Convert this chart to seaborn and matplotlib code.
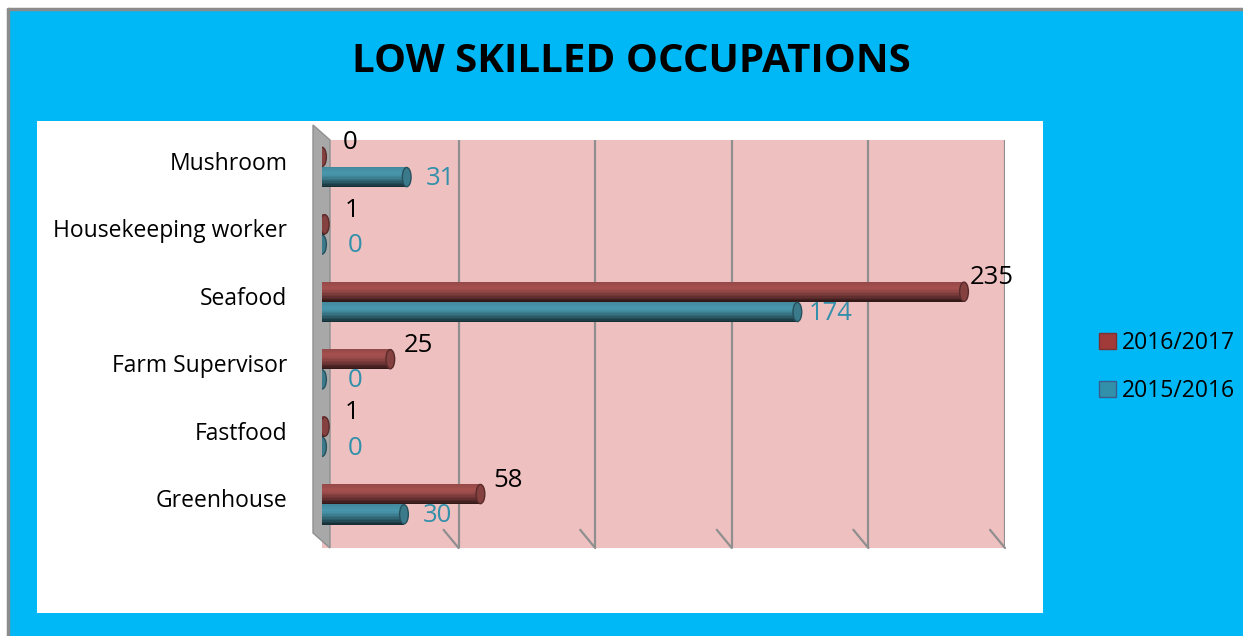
import numpy as np
import pandas as pd
import matplotlib
matplotlib.use("Agg")
import matplotlib.pyplot as plt
from matplotlib.patches import Rectangle, Polygon, Ellipse
import seaborn as sns

# chart data
occupations = ["Mushroom", "Housekeeping worker", "Seafood",
               "Farm Supervisor", "Fastfood", "Greenhouse"]
years = ["2016/2017", "2015/2016"]
values_1617 = [0, 1, 235, 25, 1, 58]
values_1516 = [31, 0, 174, 0, 0, 30]

df = pd.DataFrame({
    "Occupation": occupations * 2,
    "Year": [years[0]] * len(occupations) + [years[1]] * len(occupations),
    "Count": values_1617 + values_1516,
})

red = "#A03B3A"
teal = "#3290AA"
sky = "#00B8F5"
pink = "#EFC0C0"

sns.set_theme(style="white")
plt.rcParams["font.family"] = ["Open Sans", "DejaVu Sans"]

W, H = 1243, 636
fig = plt.figure(figsize=(W / 100, H / 100), dpi=100, facecolor="white")

def fx(px):
    return px / W

def fy(py):
    return 1 - py / H

# blue frame with a grey border on top and left
fig.patches.append(Rectangle((fx(8), 0), 1 - fx(8), fy(9), transform=fig.transFigure,
                             facecolor=sky, edgecolor="none", zorder=0))
fig.lines.append(plt.Line2D([fx(8), 1], [fy(9), fy(9)], transform=fig.transFigure,
                            color="#8C8C8C", lw=2.5, zorder=1))
fig.lines.append(plt.Line2D([fx(8), fx(8)], [fy(9), 0], transform=fig.transFigure,
                            color="#8C8C8C", lw=2.5, zorder=1))
# white plot area
fig.patches.append(Rectangle((fx(37), fy(613)), fx(1043) - fx(37), fy(121) - fy(613),
                             transform=fig.transFigure, facecolor="white",
                             edgecolor="none", zorder=1))

fig.text(fx(631), fy(62), "LOW SKILLED OCCUPATIONS", ha="center", va="center",
         fontsize=29, fontweight="bold", color="black")

ax = fig.add_axes([fx(322), fy(548), fx(1005) - fx(322), fy(140) - fy(548)])
ax.set_facecolor(pink)
ax.set_zorder(2)

# grey side wall of the 3d chart, in front of the pink back wall
ax.add_patch(Polygon([(fx(313), fy(125)), (fx(330), fy(140)), (fx(330), fy(548)),
                      (fx(313), fy(533))], closed=True, transform=fig.transFigure,
                     facecolor="#A8A8A8", edgecolor="#909090", lw=1, zorder=2,
                     clip_on=False))

sns.barplot(data=df, y="Occupation", x="Count", hue="Year", order=occupations,
            hue_order=years, palette=[red, teal], orient="h", width=0.6,
            ax=ax, legend=False, zorder=3, linewidth=0)

# shade each bar like a cylinder: thin strips from light top to dark bottom
def shade(t):
    if t < 0.3:
        return 1.0 + 0.12 * t / 0.3
    return 1.12 - 0.82 * ((t - 0.3) / 0.7) ** 1.3

n_strips = 14
for patch in list(ax.patches):
    if not isinstance(patch, Rectangle):
        continue
    y0 = patch.get_y()
    h = patch.get_height()
    w = patch.get_width()
    base = np.array(patch.get_facecolor()[:3])
    for k in range(n_strips):
        t = (k + 0.5) / n_strips
        col = np.clip(base * shade(t), 0, 1)
        if w > 0:
            ax.add_patch(Rectangle((patch.get_x(), y0 + h * k / n_strips), w,
                                   h / n_strips + 0.002, facecolor=col,
                                   edgecolor="none", zorder=4))
    # end cap of the cylinder
    ax.add_patch(Ellipse((w, y0 + h / 2), 3.2, h * 0.95,
                         facecolor=np.clip(base * 0.9, 0, 1),
                         edgecolor=np.clip(base * 0.6, 0, 1), lw=1, zorder=5))

ax.set_xlim(0, 250)
ax.set_ylim(5.65, -0.40)
ax.set_yticks(np.arange(len(occupations)) - 0.09)
ax.set_yticklabels(occupations, color="black")
ax.set_xticks([50, 100, 150, 200, 250])
ax.set_xticklabels([])
ax.grid(axis="x", color="#8F8F8F", lw=1.6)
ax.grid(axis="y", visible=False)
ax.set_axisbelow(True)
for s in ax.spines.values():
    s.set_visible(False)
ax.set_xlabel("")
ax.set_ylabel("")
ax.tick_params(axis="y", length=0, pad=25, labelsize=16.5)
ax.tick_params(axis="x", length=0)

# small slanted ticks at the foot of each grid line
for gx in [50, 100, 150, 200, 250]:
    ax.plot([gx - 5.5, gx], [5.38, 5.65], color="#8F8F8F", lw=1.6, zorder=2,
            clip_on=False)

# value labels
for bars, vals, col, off in [(ax.containers[0], values_1617, "black", (20, 10)),
                             (ax.containers[1], values_1516, teal, (24, -1))]:
    for bar, v in zip(bars, vals):
        ax.annotate(str(v), (v, bar.get_y() + bar.get_height() / 2),
                    xytext=off, textcoords="offset points", ha="center",
                    va="center", fontsize=18.5, color=col, zorder=6,
                    annotation_clip=False)

# legend
handles = [Rectangle((0, 0), 1, 1, facecolor=red, edgecolor="#7F3030"),
           Rectangle((0, 0), 1, 1, facecolor=teal, edgecolor="#3A5E8C")]
fig.legend(handles, years, loc="center left", bbox_to_anchor=(fx(1078), fy(367)),
           frameon=False, fontsize=16.5, handlelength=0.75, handleheight=0.75,
           handletextpad=0.25, labelspacing=1.05, labelcolor="black")

fig.savefig("out.png", dpi=100, facecolor=fig.get_facecolor())
